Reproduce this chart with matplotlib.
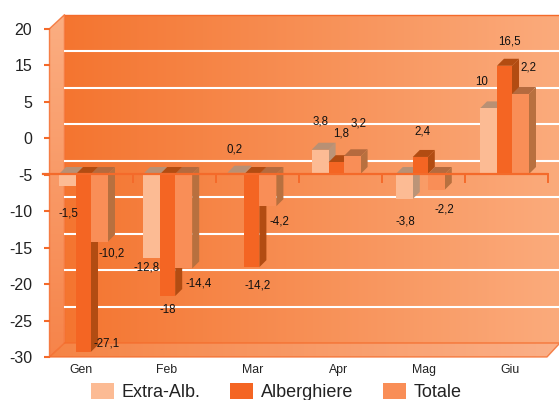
import numpy as np
import matplotlib
matplotlib.use("Agg")
import matplotlib.pyplot as plt
from matplotlib.colors import LinearSegmentedColormap
from matplotlib.patches import Polygon, Patch

plt.rcParams['font.family'] = ['Liberation Sans', 'DejaVu Sans']

# ---- data (bar heights; labels as printed) ----
categories = ['Gen', 'Feb', 'Mar', 'Apr', 'Mag', 'Giu']
series_names = ['Extra-Alb.', 'Alberghiere', 'Totale']
extra_alb = [-1.8, -12.8, 0.2, 3.7, -3.8, 10]
alberghiere = [-27.1, -18.6, -14.2, 1.8, 2.6, 16.5]
totale = [-10.3, -14.4, -4.9, 2.7, -2.4, 12.2]
extra_labels = ['-1,5', '-12,8', '0,2', '3,8', '-3,8', '10']
alb_labels = ['-27,1', '-18', '-14,2', '1,8', '2,4', '16,5']
tot_labels = ['-10,2', '-14,4', '-4,2', '3,2', '-2,2', '2,2']
y_tick_labels = ['20', '15', '5', '0', '-5', '-10', '-15', '-20', '-25', '-30']

# ---- layout (pixels of the 559x400 canvas) ----
W, H = 559, 400
L, R, T, B = 49.5, 547, 28.7, 357      # front plane of the box
BASE = 174                             # pixel row of the value 0
PX_PER_UNIT = 6.56
GROUP0, GROUP_STEP = 83, 84.2
DX, DY = 15, 14                        # box depth
BDX, BDY = 7, 7                        # bar depth
WID = [17, 15, 17]
OFF = [-24, -7, 8]
COL = ['#fcbb94', '#f46523', '#f98e57']
TOP = ['#b89074', '#b24c12', '#b56a3e']
SIDE = ['#bb9478', '#b24c12', '#b8703f']
ORANGE = '#f46a2a'

fig = plt.figure(figsize=(W / 100, H / 100), dpi=100)
ax = fig.add_axes([L / W, 1 - B / H, (R - L) / W, (B - T) / H])

ux = 1 / GROUP_STEP
uy = 1 / PX_PER_UNIT
def X(px): return (px - GROUP0) * ux
def Y(py): return (BASE - py) * uy

def gradient(poly, c0, c1, vertical=False, z=0, extent=None):
    cmap = LinearSegmentedColormap.from_list('g', [c0, c1])
    arr = np.linspace(0, 1, 256)
    arr = arr.reshape(-1, 1) if vertical else arr.reshape(1, -1)
    xs, ys = zip(*poly)
    ext = extent or (min(xs), max(xs), min(ys), max(ys))
    im = ax.imshow(arr, cmap=cmap, extent=ext, aspect='auto', zorder=z, origin='upper')
    p = Polygon(poly, transform=ax.transData, fc='none', ec='none', clip_on=False)
    ax.add_patch(p)
    im.set_clip_box(fig.bbox)
    im.set_clip_path(p)

# back wall
back = [(X(L + DX), Y(T - DY)), (X(W + 1), Y(T - DY)), (X(W + 1), Y(B - DY)), (X(L + DX), Y(B - DY))]
gradient(back, '#f47530', '#fbab7c', z=0)
# left wall
lw = [(X(L), Y(T)), (X(L + DX), Y(T - DY)), (X(L + DX), Y(B - DY)), (X(L), Y(B))]
gradient(lw, '#fbae82', '#f6844a', vertical=True, z=0.1)
# floor
fl = [(X(L), Y(B)), (X(L + DX), Y(B - DY)), (X(W + 1), Y(B - DY)), (X(R), Y(B))]
gradient(fl, '#f58445', '#fbb088', z=0.1, extent=(X(L), X(W + 1), Y(B), Y(B - DY)))
ax.set_xlim(X(L), X(R))
ax.set_ylim(Y(B), Y(T))

# box edges
for seg, a_ in (([(L + DX, T - DY), (W + 1, T - DY)], 1),
                ([(L, T), (L + DX, T - DY), (L + DX, B - DY), (W + 1, B - DY)], 0.8),
                ([(L, T), (L, B), (R, B), (W + 1, B - DY)], 0.8),
                ([(L, B), (L + DX, B - DY)], 0.8)):
    ax.plot([X(a) for a, _ in seg], [Y(b) for _, b in seg], color=ORANGE, lw=1,
            clip_on=False, zorder=0.5, alpha=a_)

# grid lines on the back wall (y ticks, shifted by the depth)
n = len(y_tick_labels)
tick_px = np.linspace(T, B, n)
for py in tick_px[1:-1]:
    ax.plot([X(L + DX), X(W + 1)], [Y(py - DY)] * 2, color='white', lw=1.5, zorder=0.6, clip_on=False)

# category boundary ticks under the zero line
for px in 133 + 82.9 * np.arange(6):
    ax.plot([X(px), X(px)], [Y(BASE), Y(BASE + 8)], color=ORANGE, lw=1.4, zorder=0.7, clip_on=False)

# 3D bars
all_series = [extra_alb, alberghiere, totale]
ddx, ddy = BDX * ux, BDY * uy
for i in range(len(categories)):
    for s, vals in enumerate(all_series):
        v = vals[i]
        w = WID[s] * ux
        x0 = i + OFF[s] * ux
        x1 = x0 + w
        ymax = max(v, 0)
        ymin = min(v, 0)
        z = 2 + s + i * 0.01
        ax.add_patch(Polygon([(x0, ymax), (x0 + ddx, ymax + ddy), (x1 + ddx, ymax + ddy), (x1, ymax)],
                             fc=TOP[s], ec='none', zorder=z, clip_on=False))
        ax.add_patch(Polygon([(x1, ymin), (x1 + ddx, ymin + ddy), (x1 + ddx, ymax + ddy), (x1, ymax)],
                             fc=SIDE[s], ec='none', zorder=z, clip_on=False))
        ax.bar(x0, v, width=w, align='edge', color=COL[s], zorder=z + 0.1, clip_on=False)

# zero line
ax.plot([X(43), X(R)], [0, 0], color=ORANGE, lw=1.6, zorder=9, clip_on=False)

# value labels, placed by hand as in the source chart
label_px = [
    [(68.5, 213), (147, 267), (235, 149), (321, 122), (405, 221), (482, 82)],
    [(107, 343), (168, 310), (258, 285), (341, 134), (422, 131), (509, 42)],
    [(112, 254), (199, 284), (279, 221), (359, 124), (444, 209), (528, 67)],
]
for labels, pts in zip([extra_labels, alb_labels, tot_labels], label_px):
    for text, (px, py) in zip(labels, pts):
        ax.text(X(px), Y(py), text, ha='center', va='center', fontsize=8.3, color='#111111',
                zorder=12, clip_on=False)

# axes furniture
for sp in ax.spines.values():
    sp.set_visible(False)
ax.set_yticks([Y(p) for p in tick_px])
ax.set_yticklabels(y_tick_labels, fontsize=11.5, color='#222222')
ax.tick_params(axis='y', length=4.5, width=1.5, color=ORANGE, pad=8)
label_x = [X(81 + 85.8 * i) for i in range(6)]
ax.set_xticks(label_x)
ax.set_xticklabels(categories, fontsize=8.8, color='#222222')
ax.tick_params(axis='x', length=0, pad=5)
ax.patch.set_visible(False)

handles = [Patch(fc=c, ec='none', label=n_) for c, n_ in zip(COL, series_names)]
fig.legend(handles=handles, loc='center', bbox_to_anchor=(276 / W, 1 - 392 / H), ncol=3,
           frameon=False, fontsize=13, handlelength=1.27, handleheight=1.0,
           handletextpad=0.42, columnspacing=1.66, borderpad=0, labelcolor='#222222')

fig.savefig('out.png', dpi=100)
